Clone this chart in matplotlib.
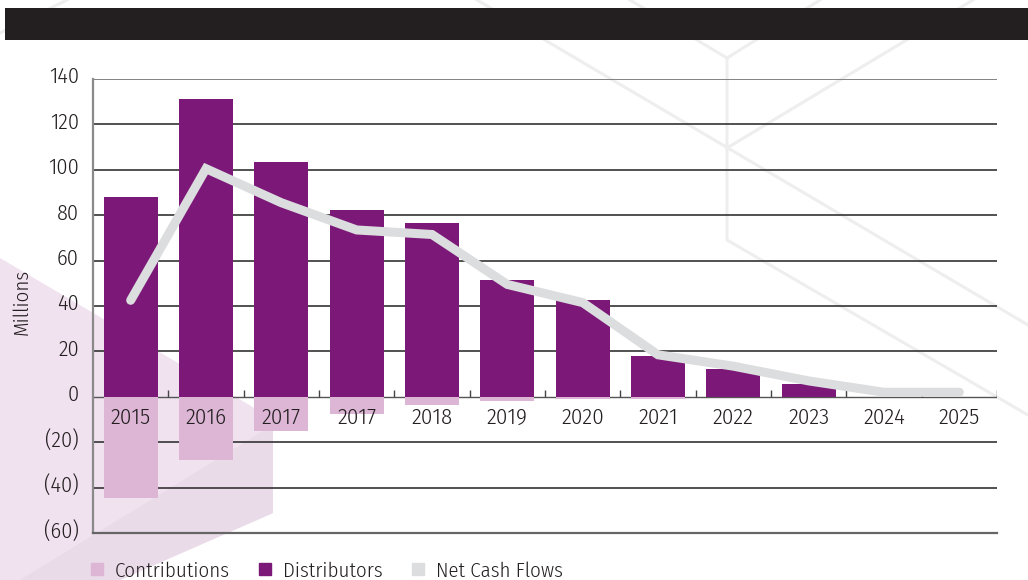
import numpy as np
import matplotlib.pyplot as plt
from matplotlib.lines import Line2D
from matplotlib.patches import Polygon, Rectangle
from matplotlib.transforms import ScaledTranslation

plt.rcParams['font.family'] = ['Fira Sans Condensed', 'DejaVu Sans']
plt.rcParams['font.weight'] = 300

years = ['2015', '2016', '2017', '2017', '2018', '2019', '2020',
         '2021', '2022', '2023', '2024', '2025']
distributions = [88, 131, 103.5, 82.5, 76.5, 51.5, 42.5, 18, 12.3, 5.5, 0, 0]
contributions = [-44.5, -28, -15, -7.5, -3.5, -1.8, -1.0, -0.8, 0, 0, 0, 0]
net_cash = [42.5, 100.5, 85.5, 73.5, 71.5, 49.5, 41.5, 18.5, 13.5, 7.0, 2.0, 2.0]

y_ticks = [-60, -40, -20, 0, 20, 40, 60, 80, 100, 120, 140]
y_labels = ['(60)', '(40)', '(20)', '0', '20', '40', '60', '80', '100', '120', '140']

purple = '#7B1878'
pink = '#DDB6D6'
grey_line = '#DCDDDE'
text_col = '#231F20'

W, H = 1028, 580
fig = plt.figure(figsize=(W / 100, H / 100), dpi=100)


def px(x, y):
    # pixel position -> figure fraction
    return (x / W, 1 - y / H)


# background: faint hex lines and the pink cube panel
bg_lines = [
    [(477, 0), (1028, 325)],
    [(630, 0), (727, 58), (820, 0)],
    [(727, 58), (727, 240), (1028, 415)],
    [(727, 148), (973, 0)],
    [(0, 33), (67, 0)],
]
for seg in bg_lines:
    xs, ys = zip(*[px(*p) for p in seg])
    fig.add_artist(Line2D(xs, ys, color='#EEEEEE', lw=2.2, zorder=0))

fig.add_artist(Polygon([px(0, 258), px(273, 419), px(273, 513), px(120, 580), px(0, 580)],
                       closed=True, facecolor='#F1E2F0', edgecolor='none', zorder=0))
fig.add_artist(Polygon([px(273, 425), px(273, 513), px(120, 580), px(20, 580)],
                       closed=True, facecolor='#EADBE9', edgecolor='none', zorder=0))

# black header band
fig.add_artist(Rectangle(px(5, 40), (W - 5) / W, 32 / H, facecolor='#231F20',
                         edgecolor='none', zorder=1))

ax = fig.add_axes([93 / W, 1 - 533 / H, (997 - 93) / W, (533 - 79) / H])
ax.patch.set_alpha(0)

x = np.arange(len(years))
ax.bar(x, distributions, width=0.72, color=purple, zorder=3)
ax.bar(x, contributions, width=0.72, color=pink, zorder=3)
ax.plot(x, net_cash, color=grey_line, lw=6.5, solid_capstyle='round',
        solid_joinstyle='miter', zorder=4)

ax.set_xlim(-0.5, len(years) - 0.5)
ax.set_ylim(-60, 140)

# horizontal rules
for t in y_ticks[1:]:
    if t == 0:
        ax.axhline(t, color='#555555', lw=1.0, zorder=2)
    elif t == 140:
        ax.axhline(t, color='#7A7A7A', lw=1.3, zorder=2)
    else:
        ax.axhline(t, color='#333333', lw=1.2, zorder=2)

# small category separators rising from the zero line
ax.vlines(np.arange(len(years)) + 0.5, 0, 2.8, color='#444444', lw=1.0, zorder=2)

for s in ['top', 'right']:
    ax.spines[s].set_visible(False)
ax.spines['left'].set_color('#8A8A8A')
ax.spines['left'].set_linewidth(1.6)
ax.spines['bottom'].set_color('#666666')
ax.spines['bottom'].set_linewidth(1.6)

ax.set_xticks([])
ax.set_yticks(y_ticks)
ax.set_yticklabels(y_labels, fontsize=16, color=text_col)
ax.tick_params(axis='y', length=0, pad=10)
for lab in ax.get_yticklabels():
    lab.set_transform(lab.get_transform() + ScaledTranslation(0, 4 / 100, fig.dpi_scale_trans))

for xi, yr in zip(x, years):
    ax.text(xi, -9, yr, ha='center', va='center', fontsize=16.5, color=text_col, zorder=5)

fig.text(22 / W, 1 - 302 / H, 'Millions', rotation=90, ha='center', va='center',
         fontsize=15, color=text_col)

handles = [Line2D([], [], marker='s', ls='', markersize=9, color=c)
           for c in [pink, purple, grey_line]]
fig.legend(handles, ['Contributions', 'Distributors', 'Net Cash Flows'],
           loc='center left', bbox_to_anchor=(70 / W, 1 - 571 / H), ncol=3,
           frameon=False, fontsize=15, handlelength=0.8, handletextpad=0.45,
           columnspacing=1.3, labelcolor=text_col)

fig.savefig('out.png', dpi=100)
